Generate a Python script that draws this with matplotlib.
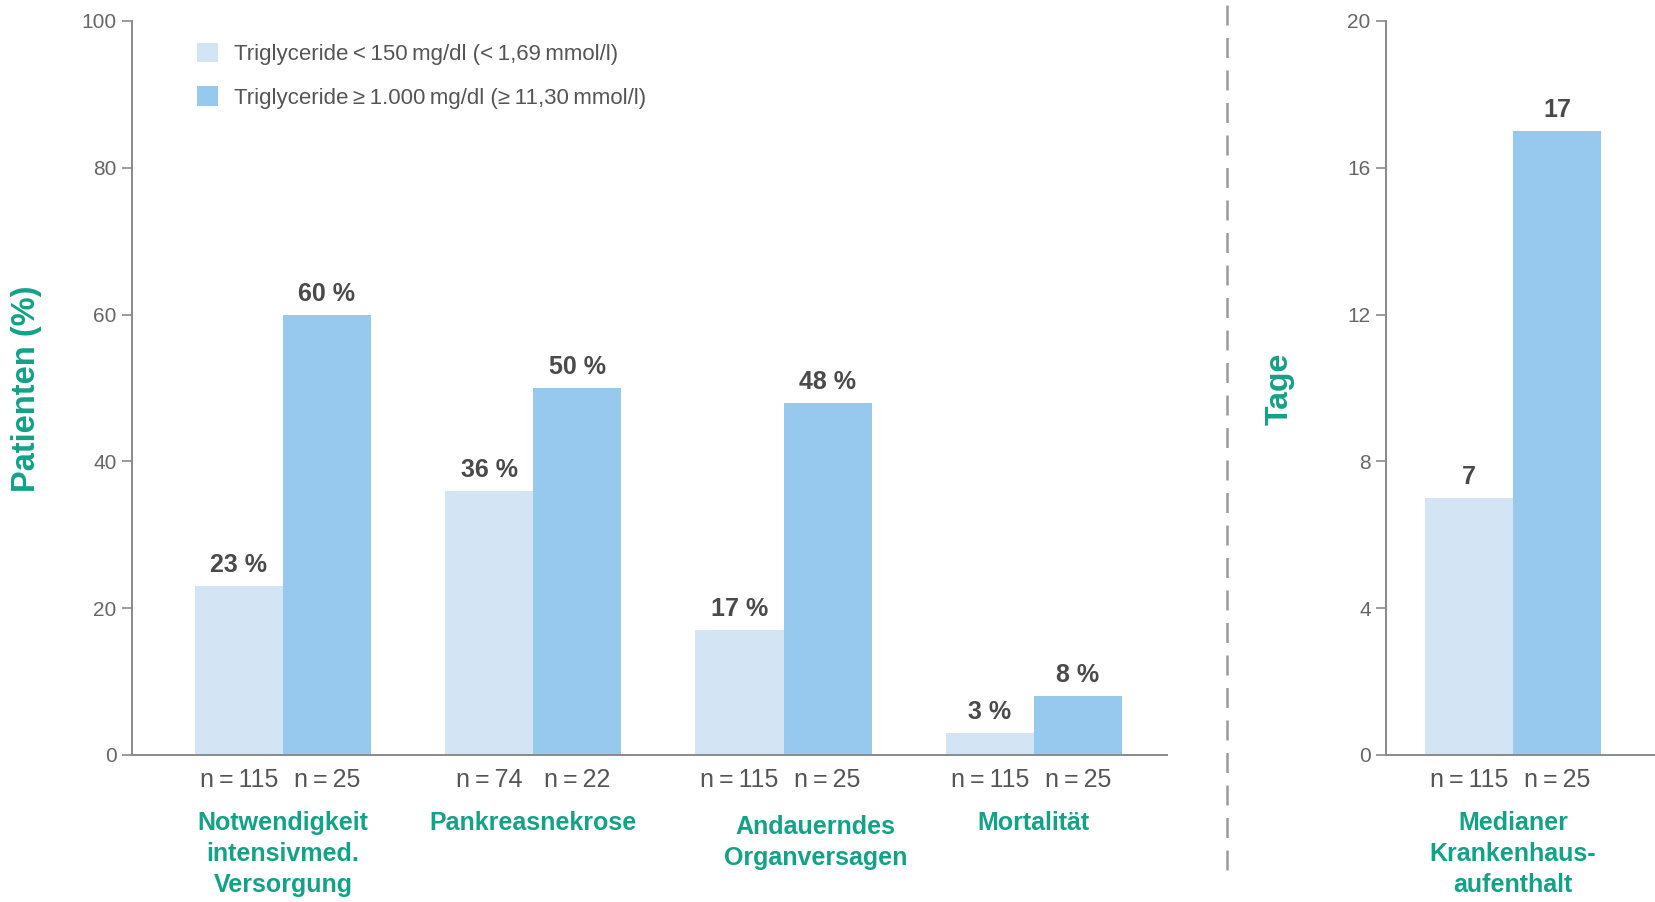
import numpy as np
import matplotlib
matplotlib.use("Agg")
import matplotlib.pyplot as plt
from matplotlib.lines import Line2D

plt.rcParams['font.family'] = ['Liberation Sans', 'DejaVu Sans']

# ---- data -------------------------------------------------------------
categories = ["Notwendigkeit\nintensivmed.\nVersorgung", "Pankreasnekrose",
              "Andauerndes\nOrganversagen", "Mortalität"]
low_tg_pct = [23, 36, 17, 3]
high_tg_pct = [60, 50, 48, 8]
n_low = [115, 74, 115, 115]
n_high = [25, 22, 25, 25]

stay_category = "Medianer\nKrankenhaus-\naufenthalt"
stay_low = [7]
stay_high = [17]
n_stay_low = [115]
n_stay_high = [25]

pct_ticks = [0, 20, 40, 60, 80, 100]
day_ticks = [0, 4, 8, 12, 16, 20]

legend_labels = ["Triglyceride\u2009<\u2009150\u2009mg/dl (<\u20091,69\u2009mmol/l)",
                 "Triglyceride\u2009\u2265\u20091.000\u2009mg/dl (\u2265\u200911,30\u2009mmol/l)"]

# ---- style --------------------------------------------------------------
LIGHT = "#D3E4F5"
DARK = "#97C9EE"
GREEN = "#12A287"
VALUE_C = "#4A4A4A"
TICK_C = "#666666"
AXIS_C = "#8A8A8A"
BAR_W = 0.352

W, H = 1656, 902
fig = plt.figure(figsize=(W / 100, H / 100), dpi=100)


def px_axes(x0, y_top, x1, y_bot):
    return fig.add_axes([x0 / W, 1 - y_bot / H, (x1 - x0) / W, (y_bot - y_top) / H])


ax1 = px_axes(132, 21, 1167, 755)
ax2 = px_axes(1386, 21, 1656, 755)


def style_axis(ax, ticks):
    for s in ("top", "right"):
        ax.spines[s].set_visible(False)
    for s in ("left", "bottom"):
        ax.spines[s].set_color(AXIS_C)
        ax.spines[s].set_linewidth(1.4)
    ax.set_ylim(ticks[0], ticks[-1])
    ax.set_yticks(ticks)
    ax.set_xticks([])
    ax.tick_params(axis="y", direction="out", length=7, width=1.2, color=AXIS_C,
                   labelsize=15, labelcolor=TICK_C, pad=4)


def value_labels(ax, xs, vals, fmt):
    for x, v in zip(xs, vals):
        ax.annotate(fmt.format(v), xy=(x, v), xytext=(0, 10), textcoords="offset points",
                    ha="center", va="baseline", fontsize=18, fontweight="bold",
                    color=VALUE_C)


def n_labels(ax, xs, ns):
    for x, n in zip(xs, ns):
        ax.annotate("n\u2009=\u2009{}".format(n), xy=(x, 0), xycoords=("data", "axes fraction"),
                    xytext=(0, -18), textcoords="offset points", ha="center", va="center",
                    fontsize=18, color="#555555", annotation_clip=False)


def cat_label(ax, x, text, dx=0, dy=0):
    ax.annotate(text, xy=(x, 0), xycoords=("data", "axes fraction"),
                xytext=(dx, -40 + dy), textcoords="offset points", ha="center", va="top",
                fontsize=18, fontweight="bold", color=GREEN, linespacing=1.38,
                annotation_clip=False)


# ---- left panel: percentages -------------------------------------------
x = np.arange(len(categories))
ax1.bar(x - BAR_W / 2, low_tg_pct, BAR_W, color=LIGHT, label=legend_labels[0])
ax1.bar(x + BAR_W / 2, high_tg_pct, BAR_W, color=DARK, label=legend_labels[1])
style_axis(ax1, pct_ticks)
ax1.set_xlim(-0.603, 3.532)
value_labels(ax1, x - BAR_W / 2, low_tg_pct, "{} %")
value_labels(ax1, x + BAR_W / 2, high_tg_pct, "{} %")
n_labels(ax1, x - BAR_W / 2, n_low)
n_labels(ax1, x + BAR_W / 2, n_high)
for i, cat in enumerate(categories):
    if cat.startswith("Andauerndes"):
        cat_label(ax1, x[i], cat, dx=23, dy=-3)
    else:
        cat_label(ax1, x[i], cat)

leg = ax1.legend(loc="upper left", bbox_to_anchor=(197 / W, 1 - 43 / H),
                 bbox_transform=fig.transFigure, frameon=False, fontsize=16,
                 handlelength=0.95, handleheight=0.95, handletextpad=0.72,
                 labelspacing=0.95, borderpad=0, borderaxespad=0)
for t in leg.get_texts():
    t.set_color("#555555")

# ---- right panel: hospital stay in days --------------------------------
xs = np.arange(1)
ax2.bar(xs - BAR_W / 2, stay_low, BAR_W, color=LIGHT)
ax2.bar(xs + BAR_W / 2, stay_high, BAR_W, color=DARK)
style_axis(ax2, day_ticks)
ax2.set_xlim(-0.507, 0.571)
value_labels(ax2, xs - BAR_W / 2, stay_low, "{}")
value_labels(ax2, xs + BAR_W / 2, stay_high, "{}")
n_labels(ax2, xs - BAR_W / 2, n_stay_low)
n_labels(ax2, xs + BAR_W / 2, n_stay_high)
cat_label(ax2, xs[0], stay_category)

# ---- axis titles and separator ----------------------------------------
fig.text(27 / W, 1 - 389 / H, "Patienten (%)", rotation=90, ha="center", va="center",
         fontsize=23.5, fontweight="bold", color=GREEN)
fig.text(1280 / W, 1 - 389 / H, "Tage", rotation=90, ha="center", va="center",
         fontsize=23, fontweight="bold", color=GREEN)
fig.add_artist(Line2D([1227 / W, 1227 / W], [1 - 5 / H, 1 - 877 / H],
                      transform=fig.transFigure, color="#9A9A9A", linewidth=1.8,
                      dashes=(8, 5)))

fig.savefig("out.png", dpi=100, facecolor="white")
